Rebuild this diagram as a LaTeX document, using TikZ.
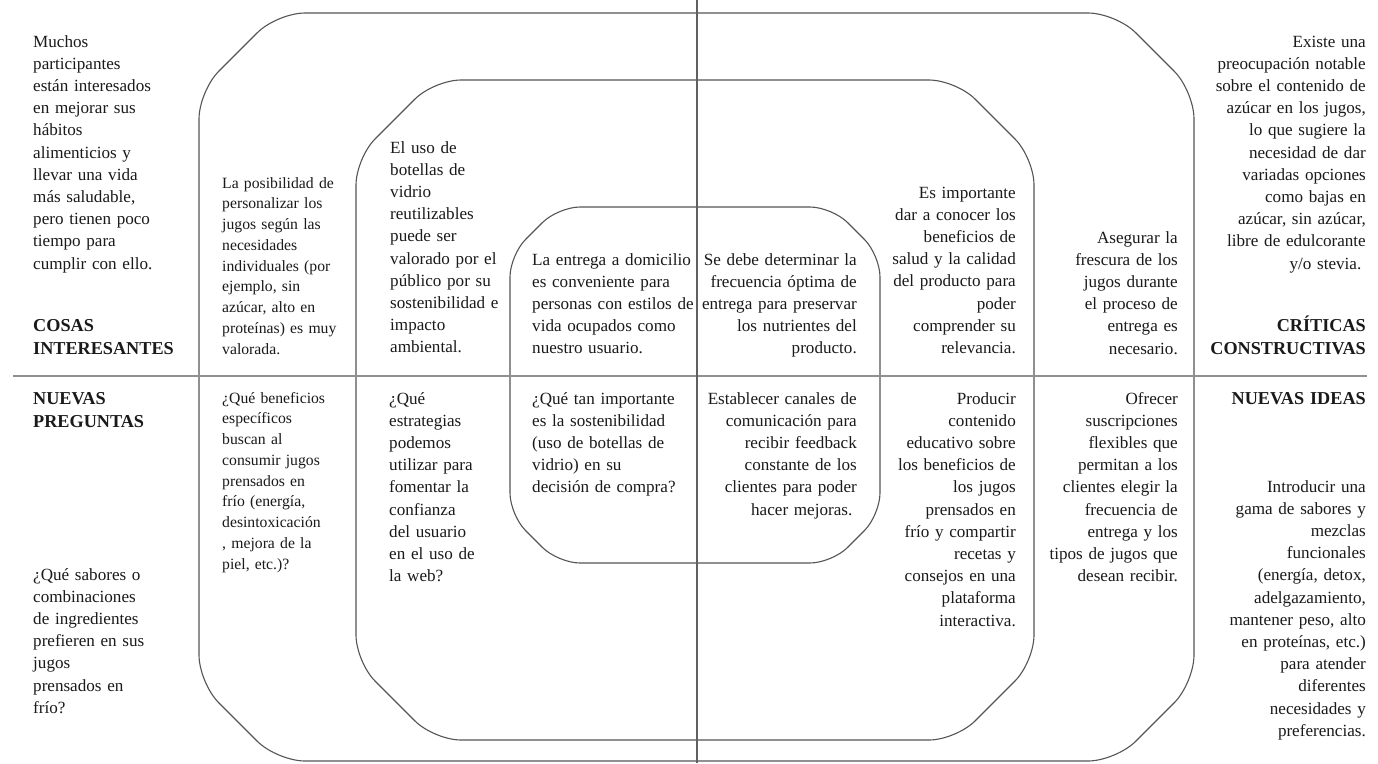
\documentclass[tikz,border=0pt]{standalone}
\usepackage{fontspec}
\setmainfont{Liberation Serif}
\definecolor{octc}{HTML}{555555}
\definecolor{hdiv}{HTML}{909090}
\definecolor{vdiv}{HTML}{606060}
\definecolor{inkc}{HTML}{1A1A1A}
\newcommand\octopath[6]{%
  \draw[oct,rounded corners=#6] ({(#1+#3)/2},#2) -- ({#3-#5},#2) -- (#3,{#2+#5}) -- (#3,{#4-#5})
   -- ({#3-#5},#4) -- ({#1+#5},#4) -- (#1,{#4-#5}) -- (#1,{#2+#5}) -- ({#1+#5},#2) -- cycle;}
\begin{document}
\begin{tikzpicture}[x=1pt,y=-1pt,
  oct/.style={draw=octc,line width=1.1pt},
  txt/.style={inner sep=0pt,text=inkc,font=\fontsize{17.1}{22.2}\selectfont,text width=230pt},
  sml/.style={font=\fontsize{15.7}{20.75}\selectfont},
  hd/.style={inner sep=0pt,text=inkc,font=\fontsize{18.2}{23}\selectfont\bfseries,text width=230pt},
  lt/.style={anchor=base west,align=left},
  rt/.style={anchor=base east,align=right}]
\useasboundingbox (0,0) rectangle (1378,763);
\fill[white] (0,0) rectangle (1378,763);
% octagons
\octopath{199}{13}{1194}{761}{78}{28}
\octopath{356}{80}{1034}{740}{78}{27}
\octopath{510}{207}{880}{563}{48}{22}
% dividers
\coordinate (hl) at (13,376);
\coordinate (hr) at (1367,376);
\coordinate (vt) at (697,0);
\coordinate (vb) at (697,763);
\draw[hdiv,line width=1.6pt] (hl) -- (hr);
\draw[vdiv,line width=1.1pt] (vt) -- (vb);
% top-left
\node[txt,lt] (t1) at (33,47) {Muchos\\ participantes\\ están interesados\\ en mejorar sus\\ hábitos\\ alimenticios y\\ llevar una vida\\ más saludable,\\ pero tienen poco\\ tiempo para\\ cumplir con ello.};
\node[hd,lt] (h1) at (33,331) {COSAS\\ INTERESANTES};
\node[txt,sml,lt] (t2) at (222,188) {La posibilidad de\\ personalizar los\\ jugos según las\\ necesidades\\ individuales (por\\ ejemplo, sin\\ azúcar, alto en\\ proteínas) es muy\\ valorada.};
\node[txt,lt] (t3) at (390,153) {El uso de\\ botellas de\\ vidrio\\ reutilizables\\ puede ser\\ valorado por el\\ público por su\\ sostenibilidad e\\ impacto\\ ambiental.};
\node[txt,lt] (t4) at (532,265) {La entrega a domicilio\\ es conveniente para\\ personas con estilos de\\ vida ocupados como\\ nuestro usuario.};
% top-right
\node[txt,rt] (t5) at (857,265) {Se debe determinar la\\ frecuencia óptima de\\ entrega para preservar\\ los nutrientes del\\ producto.};
\node[txt,rt] (t6) at (1016,198) {Es importante\\ dar a conocer los\\ beneficios de\\ salud y la calidad\\ del producto para\\ poder\\ comprender su\\ relevancia.};
\node[txt,rt] (t7) at (1178,243) {Asegurar la\\ frescura de los\\ jugos durante\\ el proceso de\\ entrega es\\ necesario.};
\node[txt,rt] (t8) at (1366,47) {Existe una\\ preocupación notable\\ sobre el contenido de\\ azúcar en los jugos,\\ lo que sugiere la\\ necesidad de dar\\ variadas opciones\\ como bajas en\\ azúcar, sin azúcar,\\ libre de edulcorante\\ y/o stevia.\hspace*{4.5pt}};
\node[hd,rt] (h2) at (1366,331) {CRÍTICAS\\ CONSTRUCTIVAS};
% bottom-left
\node[hd,lt] (h3) at (33,404) {NUEVAS\\ PREGUNTAS};
\node[txt,lt] (b1) at (33,580) {¿Qué sabores o\\ combinaciones\\ de ingredientes\\ prefieren en sus\\ jugos\\ prensados en\\ frío?};
\node[txt,sml,lt] (b2) at (222,403) {¿Qué beneficios\\ específicos\\ buscan al\\ consumir jugos\\ prensados en\\ frío (energía,\\ desintoxicación\\ , mejora de la\\ piel, etc.)?};
\node[txt,lt] (b3) at (389,404) {¿Qué\\ estrategias\\ podemos\\ utilizar para\\ fomentar la\\ confianza\\ del usuario\\ en el uso de\\ la web?};
\node[txt,lt] (b4) at (532,404) {¿Qué tan importante\\ es la sostenibilidad\\ (uso de botellas de\\ vidrio) en su\\ decisión de compra?};
% bottom-right
\node[txt,rt] (b5) at (857,404) {Establecer canales de\\ comunicación para\\ recibir feedback\\ constante de los\\ clientes para poder\\ hacer mejoras.\hspace*{4.5pt}};
\node[txt,rt] (b6) at (1016,404) {Producir\\ contenido\\ educativo sobre\\ los beneficios de\\ los jugos\\ prensados en\\ frío y compartir\\ recetas y\\ consejos en una\\ plataforma\\ interactiva.};
\node[txt,rt] (b7) at (1178,404) {Ofrecer\\ suscripciones\\ flexibles que\\ permitan a los\\ clientes elegir la\\ frecuencia de\\ entrega y los\\ tipos de jugos que\\ desean recibir.};
\node[hd,rt] (h4) at (1366,404) {NUEVAS IDEAS};
\node[txt,rt] (b8) at (1366,492) {Introducir una\\ gama de sabores y\\ mezclas\\ funcionales\\ (energía, detox,\\ adelgazamiento,\\ mantener peso, alto\\ en proteínas, etc.)\\ para atender\\ diferentes\\ necesidades y\\ preferencias.};
\end{tikzpicture}
\end{document}
